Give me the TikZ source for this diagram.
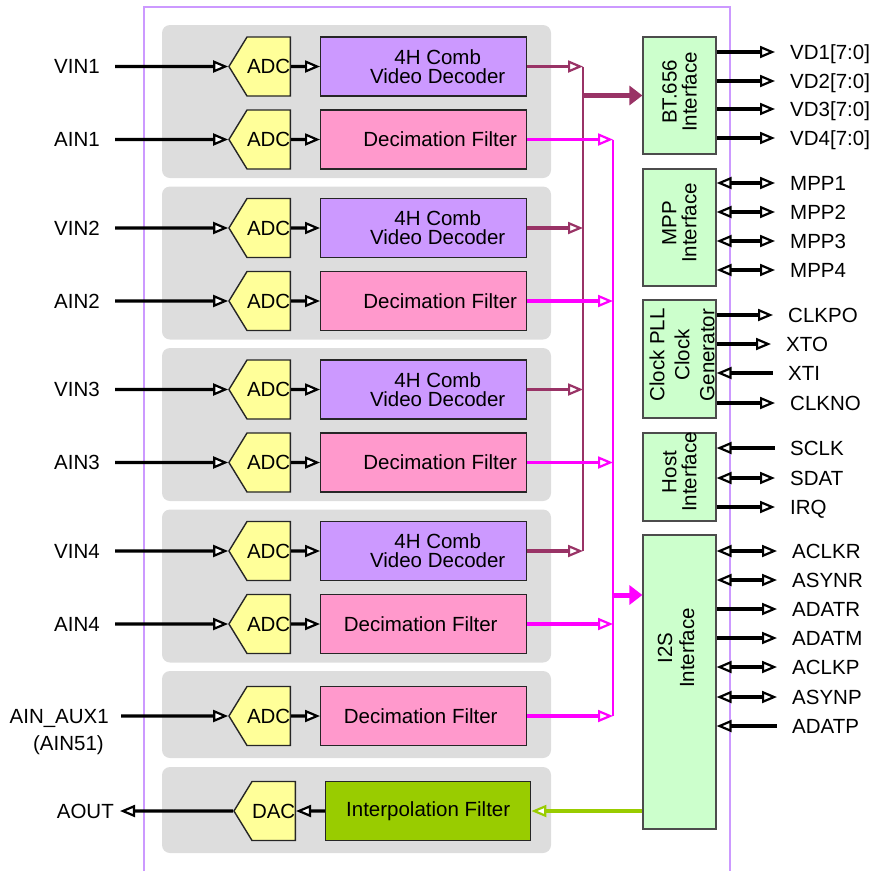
\documentclass[tikz,border=0pt]{standalone}
\usepackage{fontspec}
\setmainfont{Liberation Sans}
\usepackage{tikz}
\usetikzlibrary{arrows.meta}
\usetikzlibrary{positioning}
\usetikzlibrary{shapes.symbols}

\definecolor{framepurple}{RGB}{204,153,255}
\definecolor{panelgray}{RGB}{221,221,221}
\definecolor{adcyellow}{RGB}{255,255,153}
\definecolor{decpurple}{RGB}{204,153,255}
\definecolor{filtpink}{RGB}{255,153,204}
\definecolor{interpgreen}{RGB}{153,204,0}
\definecolor{ifgreen}{RGB}{204,255,204}
\definecolor{vidmaroon}{RGB}{153,51,102}
\definecolor{audmagenta}{RGB}{255,0,255}

\begin{document}
\begin{tikzpicture}[x=1pt,y=-1pt,>={Triangle[fill=white,length=15pt,width=12pt,line width=2.2pt]},
  font=\fontsize{20.5pt}{19pt}\selectfont,
  panel/.style={fill=panelgray,rounded corners=8pt},
  conv node/.style={shape=signal,signal to=west,signal pointer angle=117,draw=black!85,line width=1.4pt,fill=adcyellow,minimum width=59pt,minimum height=59pt,inner sep=0pt,anchor=east},
  proc node/.style={draw=black!85,line width=1.4pt,minimum width=206pt,minimum height=59pt,inner sep=0pt},
  dec node/.style={proc node,fill=decpurple},
  filt node/.style={proc node,fill=filtpink},
  if node/.style={draw=black!70,line width=1.2pt,fill=ifgreen,minimum width=73pt,inner sep=0pt},
  if text/.style={rotate=90,align=center,inner sep=0pt},
  box text/.style={align=center,inner sep=0pt},
  pin label/.style={inner sep=3pt,text height=14pt,text depth=0pt},
  in label/.style={pin label,anchor=east},
  out label/.style={pin label,anchor=west},
  sig/.style={line width=3.4pt},
  pin wire/.style={sig,shorten >=12pt},
  vid wire/.style={vidmaroon,line width=3.4pt},
  aud wire/.style={audmagenta,line width=3.4pt},
  big tip/.style={line width=5pt,-{Triangle[length=13pt,width=19pt]}}]

  \useasboundingbox (0,0) rectangle (877,871);

  % chip outline and groups
  \draw[framepurple,line width=1.4pt] (144,871) -- (144,7) -- (730,7) -- (730,871);
  \fill[panel] (162,25) rectangle (551,178);
  \fill[panel] (162,186.5) rectangle (551,339.5);
  \fill[panel] (162,348) rectangle (551,501);
  \fill[panel] (162,509.5) rectangle (551,662.5);
  \fill[panel] (162,671) rectangle (551,758);
  \fill[panel] (162,767) rectangle (551,853);

  % channel 1
  \node[in label] (vin1) at (103,66.5) {VIN1};
  \node[conv node] (adcv1) at (291,66.5) {ADC};
  \node[dec node] (dec1) [right=29pt of adcv1] {};
  \node[box text] (dec1 txt) at ([xshift=14pt]dec1.center) {4H Comb\\Video Decoder};
  \node[in label] (ain1) at (103,139.5) {AIN1};
  \node[conv node] (adca1) at (291,139.5) {ADC};
  \node[filt node] (filt1) [right=29pt of adca1] {};
  \node[box text] (filt1 txt) at ([xshift=16.5pt]filt1.center) {Decimation Filter};

  % channel 2
  \node[in label] (vin2) at (103,228) {VIN2};
  \node[conv node] (adcv2) at (291,228) {ADC};
  \node[dec node] (dec2) [right=29pt of adcv2] {};
  \node[box text] (dec2 txt) at ([xshift=14pt]dec2.center) {4H Comb\\Video Decoder};
  \node[in label] (ain2) at (103,301) {AIN2};
  \node[conv node] (adca2) at (291,301) {ADC};
  \node[filt node] (filt2) [right=29pt of adca2] {};
  \node[box text] (filt2 txt) at ([xshift=16.5pt]filt2.center) {Decimation Filter};

  % channel 3
  \node[in label] (vin3) at (103,389.5) {VIN3};
  \node[conv node] (adcv3) at (291,389.5) {ADC};
  \node[dec node] (dec3) [right=29pt of adcv3] {};
  \node[box text] (dec3 txt) at ([xshift=14pt]dec3.center) {4H Comb\\Video Decoder};
  \node[in label] (ain3) at (103,462.5) {AIN3};
  \node[conv node] (adca3) at (291,462.5) {ADC};
  \node[filt node] (filt3) [right=29pt of adca3] {};
  \node[box text] (filt3 txt) at ([xshift=16.5pt]filt3.center) {Decimation Filter};

  % channel 4
  \node[in label] (vin4) at (103,551) {VIN4};
  \node[conv node] (adcv4) at (291,551) {ADC};
  \node[dec node] (dec4) [right=29pt of adcv4] {};
  \node[box text] (dec4 txt) at ([xshift=14pt]dec4.center) {4H Comb\\Video Decoder};
  \node[in label] (ain4) at (103,624) {AIN4};
  \node[conv node] (adca4) at (291,624) {ADC};
  \node[filt node] (filt4) [right=29pt of adca4] {};
  \node[box text] (filt4 txt) at ([xshift=-3pt]filt4.center) {Decimation Filter};

  % aux input and audio out
  \node[in label] (aux) at (112,716) {AIN\_AUX1};
  \node[in label] (aux b) at (107,743) {(AIN51)};
  \node[conv node] (adcx) at (291,716) {ADC};
  \node[filt node] (filtx) [right=29pt of adcx] {};
  \node[box text] (filtx txt) at ([xshift=-3pt]filtx.center) {Decimation Filter};
  \node[in label] (aout) at (117,811) {AOUT};
  \node[conv node] (dac) at (296,811) {DAC};
  \node[proc node,fill=interpgreen,minimum width=205pt] (interp) [right=29pt of dac] {Interpolation Filter};

  % interface blocks
  \node[if node,minimum height=117pt] (bt) at (679.5,95.5) {};
  \node[if text] (bt txt) at ([yshift=3.5pt]bt.center) {BT.656\\[1pt]Interface};
  \node[if node,minimum height=117pt] (mpp) at (679.5,227.5) {};
  \node[if text] (mpp txt) at ([yshift=4.5pt]mpp.center) {MPP\\[1pt]Interface};
  \node[if node,minimum height=118pt] (clk) at (679.5,359) {};
  \node[if text] (clk txt) at ([xshift=2.5pt,yshift=4pt]clk.center) {Clock PLL\\[6pt]Clock\\[6pt]Generator};
  \node[if node,minimum height=88pt] (host) at (679.5,477) {};
  \node[if text] (host txt) at ([yshift=5pt]host.center) {Host\\[1pt]Interface};
  \node[if node,minimum height=294pt] (i2s) at (679.5,682) {};
  \node[if text] (i2s txt) at ([xshift=-3.5pt,yshift=34pt]i2s.center) {I2S\\[3pt]Interface};

  % pins
  \node[out label] (vd1) at (787,52) {VD1[7:0]};
  \node[out label] (vd2) at (787,81) {VD2[7:0]};
  \node[out label] (vd3) at (787,109) {VD3[7:0]};
  \node[out label] (vd4) at (787,138) {VD4[7:0]};
  \node[out label] (mpp1) at (787,183) {MPP1};
  \node[out label] (mpp2) at (787,212) {MPP2};
  \node[out label] (mpp3) at (787,241) {MPP3};
  \node[out label] (mpp4) at (787,270) {MPP4};
  \node[out label] (clkpo) at (785,315) {CLKPO};
  \node[out label] (xto) at (783,344) {XTO};
  \node[out label] (xti) at (785,373) {XTI};
  \node[out label] (clkno) at (787,403) {CLKNO};
  \node[out label] (sclk) at (787,448) {SCLK};
  \node[out label] (sdat) at (787,478) {SDAT};
  \node[out label] (irq) at (787,507) {IRQ};
  \node[out label] (aclkr) at (789,551) {ACLKR};
  \node[out label] (asynr) at (789,580) {ASYNR};
  \node[out label] (adatr) at (789,609) {ADATR};
  \node[out label] (adatm) at (789,638) {ADATM};
  \node[out label] (aclkp) at (789,667) {ACLKP};
  \node[out label] (asynp) at (789,697) {ASYNP};
  \node[out label] (adatp) at (789,726) {ADATP};

  \coordinate (vbus top) at (583,66.5);
  \coordinate (vbus bot) at (583,551);
  \coordinate (vbus out) at (583,95.5);
  \coordinate (abus top) at (613,139.5);
  \coordinate (abus bot) at (613,716);
  \coordinate (abus out) at (613,595);

  % inputs
  \path[sig,->]
    (vin1) edge[shorten <=12pt] (adcv1)
    (adcv1) edge (dec1)
    (ain1) edge[shorten <=12pt] (adca1)
    (adca1) edge (filt1)
    (vin2) edge[shorten <=12pt] (adcv2)
    (adcv2) edge (dec2)
    (ain2) edge[shorten <=12pt] (adca2)
    (adca2) edge (filt2)
    (vin3) edge[shorten <=12pt] (adcv3)
    (adcv3) edge (dec3)
    (ain3) edge[shorten <=12pt] (adca3)
    (adca3) edge (filt3)
    (vin4) edge[shorten <=12pt] (adcv4)
    (adcv4) edge (dec4)
    (ain4) edge[shorten <=12pt] (adca4)
    (adca4) edge (filt4)
    (aux) edge[shorten <=9pt] (adcx)
    (adcx) edge (filtx)
    (interp) edge (dac)
    (dac) edge[shorten >=3pt] (aout);

  % video bus
  \draw[vidmaroon,line width=2pt] (vbus top) -- (vbus bot);
  \draw[vid wire,->] (dec1) -- (dec1 -| vbus top);
  \draw[vid wire,->] (dec2) -- (dec2 -| vbus top);
  \draw[vid wire,->] (dec3) -- (dec3 -| vbus top);
  \draw[vid wire,->] (dec4) -- (dec4 -| vbus top);
  \draw[vidmaroon,big tip] (vbus out) -- (bt);

  % audio bus
  \draw[audmagenta,line width=2pt] (abus top) -- (abus bot);
  \draw[aud wire,->] (filt1) -- (filt1 -| abus top);
  \draw[aud wire,->] (filt2) -- (filt2 -| abus top);
  \draw[aud wire,->] (filt3) -- (filt3 -| abus top);
  \draw[aud wire,->] (filt4) -- (filt4 -| abus top);
  \draw[aud wire,->] (filtx) -- (filtx -| abus top);
  \draw[audmagenta,big tip] (abus out) -- (i2s.west |- abus out);
  \draw[interpgreen,line width=3.4pt,->] (i2s.west |- interp) -- (interp);

  % outputs
  \draw[pin wire,->] (bt.east |- vd1) -- (vd1);
  \draw[pin wire,->] (bt.east |- vd2) -- (vd2);
  \draw[pin wire,->] (bt.east |- vd3) -- (vd3);
  \draw[pin wire,->] (bt.east |- vd4) -- (vd4);
  \draw[pin wire,<->] (mpp.east |- mpp1) -- (mpp1);
  \draw[pin wire,<->] (mpp.east |- mpp2) -- (mpp2);
  \draw[pin wire,<->] (mpp.east |- mpp3) -- (mpp3);
  \draw[pin wire,<->] (mpp.east |- mpp4) -- (mpp4);
  \draw[pin wire,->] (clk.east |- clkpo) -- (clkpo);
  \draw[pin wire,->] (clk.east |- xto) -- (xto);
  \draw[pin wire,<-] (clk.east |- xti) -- (xti);
  \draw[pin wire,->] (clk.east |- clkno) -- (clkno);
  \draw[pin wire,<-] (host.east |- sclk) -- (sclk);
  \draw[pin wire,<->] (host.east |- sdat) -- (sdat);
  \draw[pin wire,->] (host.east |- irq) -- (irq);
  \draw[pin wire,<->] (i2s.east |- aclkr) -- (aclkr);
  \draw[pin wire,<->] (i2s.east |- asynr) -- (asynr);
  \draw[pin wire,->] (i2s.east |- adatr) -- (adatr);
  \draw[pin wire,->] (i2s.east |- adatm) -- (adatm);
  \draw[pin wire,<->] (i2s.east |- aclkp) -- (aclkp);
  \draw[pin wire,<->] (i2s.east |- asynp) -- (asynp);
  \draw[pin wire,<-] (i2s.east |- adatp) -- (adatp);

\end{tikzpicture}
\end{document}
